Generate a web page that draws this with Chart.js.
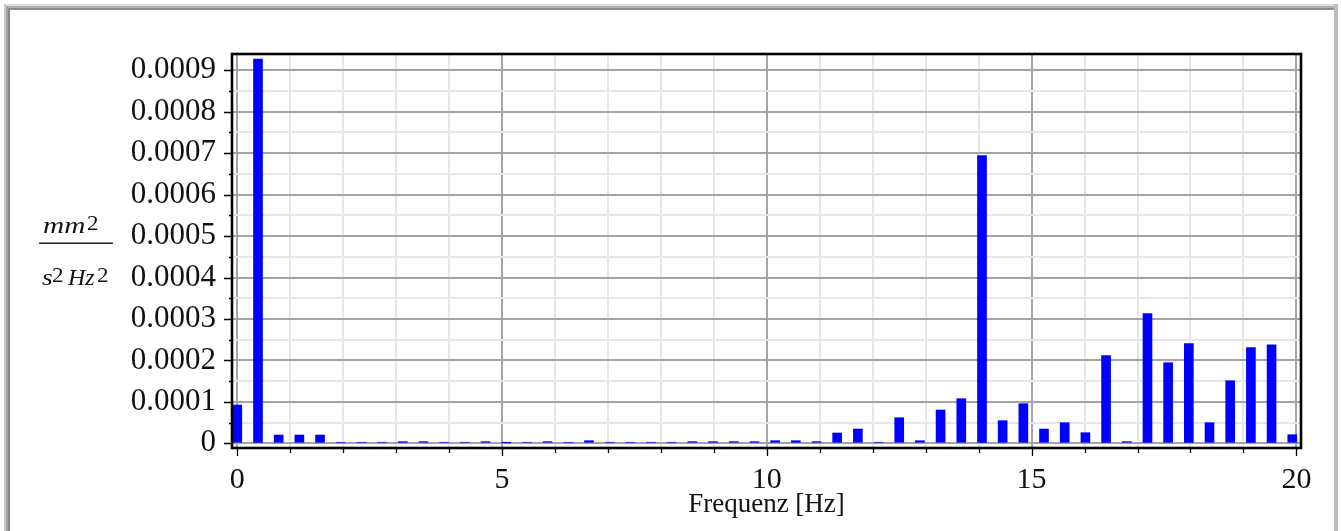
<!DOCTYPE html>
<html>
<head>
<meta charset="utf-8">
<title>Spektrum</title>
<script src="https://cdn.jsdelivr.net/npm/chart.js@4/dist/chart.umd.min.js"></script>
<style>
  html, body { margin: 0; padding: 0; background: #fff; }
  canvas { display: block; }
</style>
</head>
<body>
<canvas id="spectrum" width="1341" height="531"></canvas>
<script>
// Frequency bins [Hz] (resolution 0.390625 Hz)
const frequencies = [
  0, 0.391, 0.781, 1.172, 1.563, 1.953, 2.344, 2.734, 3.125, 3.516,
  3.906, 4.297, 4.688, 5.078, 5.469, 5.859, 6.25, 6.641, 7.031, 7.422,
  7.813, 8.203, 8.594, 8.984, 9.375, 9.766, 10.156, 10.547, 10.938, 11.328,
  11.719, 12.109, 12.5, 12.891, 13.281, 13.672, 14.063, 14.453, 14.844, 15.234,
  15.625, 16.016, 16.406, 16.797, 17.188, 17.578, 17.969, 18.359, 18.75, 19.141,
  19.531, 19.922
];

// Spectral power per bin [mm^2 / (s^2 Hz^2)]
const spectrum = [
  0.0000924, 0.000927, 0.00002, 0.00002, 0.00002, 0.0000025, 0.0000025, 0.0000025, 0.000004, 0.000004,
  0.0000025, 0.0000025, 0.000004, 0.000001, 0.0000025, 0.000004, 0.0000025, 0.0000063, 0.0000025, 0.0000025,
  0.0000025, 0.0000025, 0.000004, 0.000004, 0.000004, 0.000004, 0.0000063, 0.0000063, 0.000004, 0.0000249,
  0.0000345, 0.0000025, 0.0000618, 0.0000063, 0.0000804, 0.0001077, 0.000694, 0.0000546, 0.0000956, 0.0000345,
  0.0000498, 0.0000256, 0.0002114, 0.000004, 0.0003128, 0.0001945, 0.0002404, 0.0000498, 0.000151, 0.0002307,
  0.0002379, 0.0000208
];

// Axis ticks
const xTickValues = [0, 1, 2, 3, 4, 5, 6, 7, 8, 9, 10, 11, 12, 13, 14, 15, 16, 17, 18, 19, 20];
const xLabelValues = [0, 5, 10, 15, 20];
const yTickValues = [
  0, 0.00005, 0.0001, 0.00015, 0.0002, 0.00025, 0.0003, 0.00035, 0.0004, 0.00045,
  0.0005, 0.00055, 0.0006, 0.00065, 0.0007, 0.00075, 0.0008, 0.00085, 0.0009
];
const yLabelValues = [0, 0.0001, 0.0002, 0.0003, 0.0004, 0.0005, 0.0006, 0.0007, 0.0008, 0.0009];
const yTickLabels = ['0', '0.0001', '0.0002', '0.0003', '0.0004', '0.0005', '0.0006', '0.0007', '0.0008', '0.0009'];
const xAxisTitle = 'Frequenz [Hz]';

const SERIF = "'Liberation Serif', 'Times New Roman', serif";
const MAJOR_GRID = '#a4a4a4';
const MINOR_GRID = '#e6e6e6';

const near = (a, b) => Math.abs(a - b) < 1e-9;
const isXMajor = v => xLabelValues.some(l => near(l, v));
const yLabelIndex = v => yLabelValues.findIndex(l => near(l, v));

// White page with the grey window edge
const pageFrame = {
  id: 'pageFrame',
  beforeDraw(chart) {
    const ctx = chart.ctx;
    const W = chart.width, H = chart.height;
    ctx.save();
    ctx.fillStyle = '#fff';
    ctx.fillRect(0, 0, W, H);
    // top edge
    ctx.fillStyle = '#dedede'; ctx.fillRect(4, 4, 1334, 2);
    ctx.fillStyle = '#b0b0b0'; ctx.fillRect(6, 6, 1332, 2);
    ctx.fillStyle = '#8c8c8c'; ctx.fillRect(8, 8, 1327, 2);
    // left edge
    ctx.fillStyle = '#cacaca'; ctx.fillRect(4, 4, 2, H - 4);
    ctx.fillStyle = '#a2a2a2'; ctx.fillRect(6, 6, 2, H - 6);
    ctx.fillStyle = '#888888'; ctx.fillRect(8, 8, 2, H - 8);
    // right edge
    ctx.fillStyle = '#bcbcbc'; ctx.fillRect(1334, 4, 4, H - 4);
    ctx.restore();
  }
};

// Plot frame, tick marks and the unit fraction on the left
const plotDecor = {
  id: 'plotDecor',
  afterDraw(chart) {
    const ctx = chart.ctx;
    const a = chart.chartArea;
    const xs = chart.scales.x, ys = chart.scales.y;
    ctx.save();

    // tick marks
    ctx.strokeStyle = '#000';
    ctx.lineWidth = 1.3;
    ctx.beginPath();
    yTickValues.forEach(v => {
      const y = Math.round(ys.getPixelForValue(v)) + 0.5;
      const len = yLabelIndex(v) >= 0 ? 8 : 3;
      ctx.moveTo(a.left - len, y);
      ctx.lineTo(a.left, y);
    });
    xTickValues.forEach(v => {
      const x = Math.round(xs.getPixelForValue(v)) + 0.5;
      const len = isXMajor(v) ? 8 : 5;
      ctx.moveTo(x, a.bottom);
      ctx.lineTo(x, a.bottom + len);
    });
    ctx.stroke();

    // frame
    ctx.lineWidth = 2.6;
    ctx.strokeRect(a.left, a.top, a.right - a.left, a.bottom - a.top);

    // unit: mm^2 / (s^2 Hz^2)
    ctx.fillStyle = '#111';
    ctx.textBaseline = 'alphabetic';
    const piece = (txt, italic, x, y, size, sx) => {
      ctx.save();
      ctx.font = (italic ? 'italic ' : '') + size + 'px ' + SERIF;
      ctx.translate(x, y);
      ctx.scale(sx, 1);
      ctx.fillText(txt, 0, 0);
      ctx.restore();
    };
    piece('mm', true, 43, 233, 24, 1.22);
    piece('2', false, 87, 230, 22, 1.05);
    ctx.fillRect(39, 242.5, 74, 1.4);
    piece('s', true, 42, 285, 24, 1.15);
    piece('2', false, 52, 282, 22, 1.05);
    piece('Hz', true, 68, 285, 24, 1.0);
    piece('2', false, 97, 282, 22, 1.05);

    ctx.restore();
  }
};

new Chart(document.getElementById('spectrum'), {
  type: 'bar',
  data: {
    datasets: [{
      data: frequencies.map((f, i) => ({ x: f, y: spectrum[i] })),
      backgroundColor: '#0000ff',
      borderWidth: 0,
      barThickness: 9,
      grouped: false
    }]
  },
  options: {
    responsive: false,
    animation: false,
    layout: { padding: { top: 54, right: 40, left: 0, bottom: 0 } },
    plugins: {
      legend: { display: false },
      tooltip: { enabled: false }
    },
    scales: {
      x: {
        type: 'linear',
        offset: false,
        min: -0.1,
        max: 20.087,
        afterBuildTicks: s => { s.ticks = xTickValues.map(v => ({ value: v })); },
        afterFit: s => { s.height = 83; },
        ticks: {
          autoSkip: false,
          maxRotation: 0,
          padding: 14,
          color: '#111',
          font: { family: SERIF, size: 30 },
          callback: v => (isXMajor(v) ? String(v) : '')
        },
        grid: {
          offset: false,
          drawTicks: false,
          lineWidth: 2,
          color: c => (c.tick && isXMajor(c.tick.value) ? MAJOR_GRID : MINOR_GRID)
        },
        border: { display: false },
        title: {
          display: true,
          text: xAxisTitle,
          color: '#111',
          font: { family: SERIF, size: 27 },
          padding: { top: 0, bottom: 10 }
        }
      },
      y: {
        min: -0.0000113,
        max: 0.0009393,
        afterBuildTicks: s => { s.ticks = yTickValues.map(v => ({ value: v })); },
        afterFit: s => { s.width = 232; },
        ticks: {
          autoSkip: false,
          padding: 16,
          color: '#111',
          font: { family: SERIF, size: 31 },
          callback: v => { const i = yLabelIndex(v); return i >= 0 ? yTickLabels[i] : ''; }
        },
        grid: {
          drawTicks: false,
          lineWidth: 2,
          color: c => (c.tick && yLabelIndex(c.tick.value) >= 0 ? MAJOR_GRID : MINOR_GRID)
        },
        border: { display: false }
      }
    }
  },
  plugins: [pageFrame, plotDecor]
});
</script>
</body>
</html>
